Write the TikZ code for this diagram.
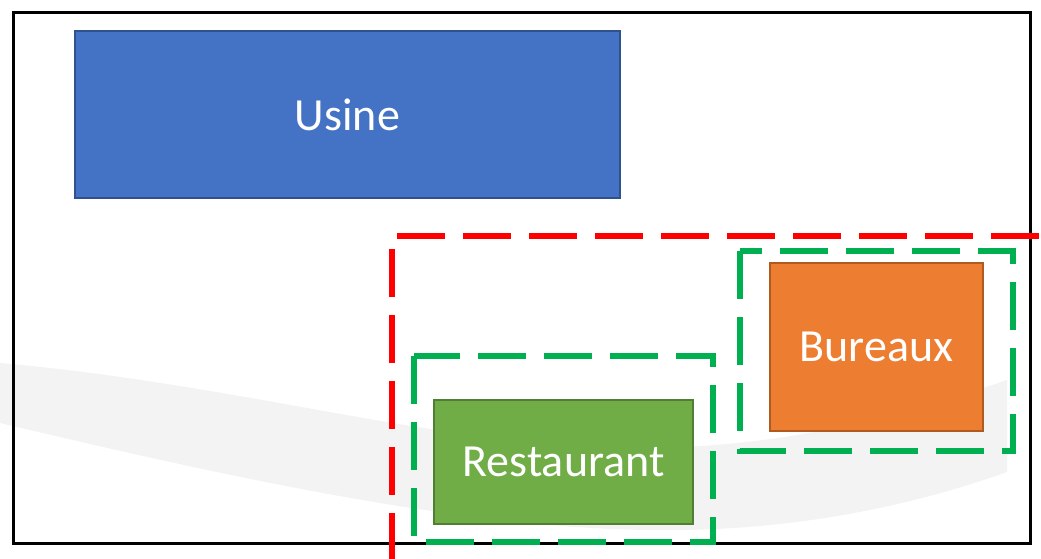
\documentclass[tikz,border=0pt]{standalone}
\usepackage{fontspec}
\setmainfont{Carlito}
\definecolor{B1}{RGB}{68,114,196}
\definecolor{B2}{RGB}{47,82,143}
\definecolor{G1}{RGB}{112,173,71}
\definecolor{G2}{RGB}{80,126,50}
\definecolor{O1}{RGB}{237,125,49}
\definecolor{O2}{RGB}{174,90,33}
\definecolor{G3}{RGB}{0,176,80}
\definecolor{R1}{RGB}{255,0,0}
\definecolor{S1}{RGB}{243,243,243}

\begin{document}
\begin{tikzpicture}[x=1pt, y=-1pt,
    box/.style={draw, line width=2pt, text=white, font=\fontsize{46}{50}\selectfont, inner sep=0pt},
    zone/.style={line width=5.5pt, dash pattern=on 48pt off 18pt}]
      \useasboundingbox (0,0) rectangle (1041,558);
      % background swoosh
      \fill[S1] (0,363) .. controls (250,385) and (450,450) .. (650,448) .. controls (800,446) and (920,410) .. (1007,380)
          -- (1007,472) .. controls (900,510) and (780,532) .. (650,530) .. controls (450,528) and (200,470) .. (0,423) -- cycle;
      \draw[line width=3pt] (13,12) rectangle (1030,543);
      \node[box, fill=B1, draw=B2, minimum width=545pt, minimum height=167pt] (usine) at (347.5,114.5) {Usine};
      \node[box, fill=G1, draw=G2, minimum width=259pt, minimum height=124pt] (restaurant) at (563.5,462) {Restaurant};
      \node[box, fill=O1, draw=O2, minimum width=213pt, minimum height=168pt] (bureaux) at (876.5,347) {Bureaux};
      \draw[zone, G3] (414,356) rectangle (713,542);
      \draw[zone, G3] (740,251) rectangle (1013,451);
      \draw[zone, R1, line width=6pt] (392,249) -- (392,562);
      \draw[zone, R1, line width=6pt] (397,236) -- (1045,236);
    \end{tikzpicture}
\end{document}
